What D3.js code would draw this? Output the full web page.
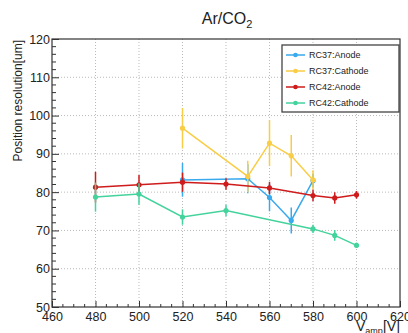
<html>
<head>
  <meta charset="utf-8">
  <script src="https://cdn.jsdelivr.net/npm/d3@7"></script>
  <style>
    body { margin: 0; background: #fff; }
    text { font-family: "Liberation Sans", Arial, sans-serif; fill: #222; }
    .grid line { stroke: #aaa; stroke-width: 0.8; stroke-dasharray: 1,2; }
  </style>
</head>
<body>
<div id="chart"></div>
<script>
  // data
  var xTicks = [460, 480, 500, 520, 540, 560, 580, 600, 620];
  var yTicks = [50, 60, 70, 80, 90, 100, 110, 120];

  var seriesNames = ["RC37:Anode", "RC37:Cathode", "RC42:Anode", "RC42:Cathode"];
  var seriesColors = ["#3aa9ee", "#f9cd45", "#cf1b1b", "#43d39c"];

  var rc37AnodeV = [520, 550, 560, 570, 580];
  var rc37AnodeRes = [83.2, 83.5, 78.6, 72.6, 83.0];
  var rc37AnodeErr = [4.4, 3.8, 3.6, 3.4, 1.8];

  var rc37CathodeV = [520, 550, 560, 570, 580];
  var rc37CathodeRes = [96.7, 84.1, 92.8, 89.5, 83.2];
  var rc37CathodeErr = [5.3, 4.1, 6.0, 5.4, 2.5];

  var rc42AnodeV = [480, 500, 520, 540, 560, 580, 590, 600];
  var rc42AnodeRes = [81.3, 81.9, 82.6, 82.1, 81.1, 79.1, 78.5, 79.3];
  var rc42AnodeErr = [4.0, 2.6, 2.5, 1.5, 1.6, 1.5, 1.5, 1.0];

  var rc42CathodeV = [480, 500, 520, 540, 580, 590, 600];
  var rc42CathodeRes = [78.7, 79.5, 73.5, 75.2, 70.4, 68.7, 66.1];
  var rc42CathodeErr = [3.8, 2.8, 2.0, 1.5, 1.1, 1.4, 0.7];

  var series = [
    { v: rc37AnodeV, r: rc37AnodeRes, e: rc37AnodeErr },
    { v: rc37CathodeV, r: rc37CathodeRes, e: rc37CathodeErr },
    { v: rc42AnodeV, r: rc42AnodeRes, e: rc42AnodeErr },
    { v: rc42CathodeV, r: rc42CathodeRes, e: rc42CathodeErr }
  ].map(function(s, i) {
    return {
      name: seriesNames[i], color: seriesColors[i],
      pts: s.v.map(function(v, j) { return { v: v, r: s.r[j], e: s.e[j] }; })
    };
  });

  var W = 408, H = 333;
  var m = { left: 52, right: 8, top: 39, bottom: 26 };

  var svg = d3.select('#chart').append('svg').attr('width', W).attr('height', H);

  var x = d3.scaleLinear().domain([460, 620]).range([m.left, W - m.right]);
  var y = d3.scaleLinear().domain([50, 120]).range([H - m.bottom, m.top]);

  // grid
  var grid = svg.append('g').attr('class', 'grid');
  grid.selectAll('.gx').data(xTicks.slice(1, -1)).enter().append('line')
    .attr('x1', function(d) { return x(d); }).attr('x2', function(d) { return x(d); })
    .attr('y1', y(50)).attr('y2', y(120));
  grid.selectAll('.gy').data(yTicks.slice(1, -1)).enter().append('line')
    .attr('y1', function(d) { return y(d); }).attr('y2', function(d) { return y(d); })
    .attr('x1', x(460)).attr('x2', x(620));

  // frame
  svg.append('rect')
    .attr('x', x(460)).attr('y', y(120))
    .attr('width', x(620) - x(460)).attr('height', y(50) - y(120))
    .attr('fill', 'none').attr('stroke', '#333').attr('stroke-width', 1.2);

  // x axis, ROOT style ticks pointing up
  var xAxis = d3.axisBottom(x).tickValues(xTicks).tickSize(-6).tickPadding(3).tickFormat(d3.format('d'));
  var gx = svg.append('g').attr('transform', 'translate(0,' + y(50) + ')').call(xAxis);
  gx.select('.domain').remove();
  gx.selectAll('line').attr('stroke', '#333');
  gx.selectAll('text').style('font-size', '12.5px').attr('dy', '0.85em');
  gx.selectAll('.minor').data(d3.range(465, 620, 5).filter(function(d) { return d % 20 !== 0; }))
    .enter().append('line').attr('class', 'minor')
    .attr('x1', function(d) { return x(d); }).attr('x2', function(d) { return x(d); })
    .attr('y1', 0).attr('y2', -3).attr('stroke', '#333');

  // y axis, ticks pointing right
  var yAxis = d3.axisLeft(y).tickValues(yTicks).tickSize(-7).tickPadding(2);
  var gy = svg.append('g').attr('transform', 'translate(' + x(460) + ',0)').call(yAxis);
  gy.select('.domain').remove();
  gy.selectAll('line').attr('stroke', '#333');
  gy.selectAll('text').style('font-size', '12.5px');
  gy.selectAll('.minor').data(d3.range(52, 120, 2).filter(function(d) { return d % 10 !== 0; }))
    .enter().append('line').attr('class', 'minor')
    .attr('y1', function(d) { return y(d); }).attr('y2', function(d) { return y(d); })
    .attr('x1', 0).attr('x2', 4).attr('stroke', '#333');

  // titles
  var title = svg.append('text').attr('x', 227).attr('y', 24).attr('text-anchor', 'middle')
    .style('font-size', '16px');
  title.append('tspan').text('Ar/CO');
  title.append('tspan').attr('dy', 4).style('font-size', '11px').text('2');

  svg.append('text')
    .attr('transform', 'translate(22,' + (y(120) + 1) + ') rotate(-90)')
    .attr('text-anchor', 'end')
    .style('font-size', '12px')
    .text('Position resolution[um]');

  var xl = svg.append('text').attr('x', W - m.right).attr('y', 331).attr('text-anchor', 'end')
    .style('font-size', '14px');
  xl.append('tspan').text('V');
  xl.append('tspan').attr('dy', 3).style('font-size', '9px').text('amp');
  xl.append('tspan').attr('dy', -3).text('[V]');

  // series
  var line = d3.line().x(function(d) { return x(d.v); }).y(function(d) { return y(d.r); });

  series.forEach(function(s) {
    var g = svg.append('g');
    g.append('path').datum(s.pts).attr('d', line)
      .attr('fill', 'none').attr('stroke', s.color).attr('stroke-width', 1.5);
    g.selectAll('.err').data(s.pts).enter().append('line')
      .attr('x1', function(d) { return x(d.v); }).attr('x2', function(d) { return x(d.v); })
      .attr('y1', function(d) { return y(d.r - d.e); }).attr('y2', function(d) { return y(d.r + d.e); })
      .attr('stroke', s.color).attr('stroke-width', 1.5);
    g.selectAll('circle').data(s.pts).enter().append('circle')
      .attr('cx', function(d) { return x(d.v); }).attr('cy', function(d) { return y(d.r); })
      .attr('r', 2.6).attr('fill', s.color);
  });

  // legend
  var leg = svg.append('g').attr('transform', 'translate(282,45)');
  leg.append('rect').attr('width', 117).attr('height', 67)
    .attr('fill', '#fff').attr('stroke', '#444').attr('stroke-width', 1.3);
  series.forEach(function(s, i) {
    var ly = 10 + i * 16;
    leg.append('line').attr('x1', 4).attr('x2', 23).attr('y1', ly).attr('y2', ly)
      .attr('stroke', s.color).attr('stroke-width', 1.5);
    leg.append('circle').attr('cx', 13.5).attr('cy', ly).attr('r', 2.3).attr('fill', s.color);
    leg.append('text').attr('x', 27).attr('y', ly).attr('dy', '0.35em')
      .style('font-size', '9px').text(s.name);
  });
</script>
</body>
</html>
